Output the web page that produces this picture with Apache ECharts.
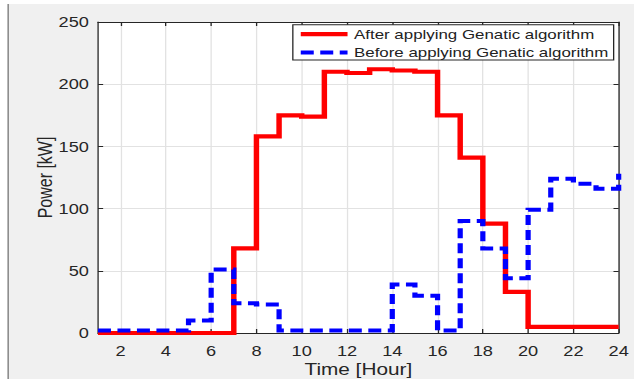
<!DOCTYPE html>
<html>
<head>
<meta charset="utf-8">
<script src="https://cdn.jsdelivr.net/npm/echarts@6/dist/echarts.min.js"></script>
<style>
  html, body { margin: 0; padding: 0; background: #fff; overflow: hidden; }
  /* the figure is drawn narrow and widened, like the exported MATLAB figure */
  #chart { width: 488px; height: 379px; transform: scaleX(1.2992); transform-origin: 0 0; }
</style>
</head>
<body>
<div id="chart"></div>
<script>
// Hours of the day (x) and power per hour in kW
const hours = [1, 2, 3, 4, 5, 6, 7, 8, 9, 10, 11, 12, 13, 14, 15, 16, 17, 18, 19, 20, 21, 22, 23, 24];
const afterGA = [0, 0, 0, 0, 0, 0, 68, 158, 175, 174, 210, 209, 212, 211, 210, 175, 141, 88, 33, 5, 5, 5, 5, 5];
const beforeGA = [2, 2, 2, 2, 10, 51, 24, 23, 2, 2, 2, 2, 2, 39, 30, 2, 90, 68, 44, 99, 124, 120, 116, 128];
const xTicks = [2, 4, 6, 8, 10, 12, 14, 16, 18, 20, 22, 24];
const seriesNames = ['After applying Genatic algorithm', 'Before applying Genatic algorithm'];

const axisColor = '#262626';
const gridColor = '#e2e2e2';
const font = 'Liberation Sans, Arial, Helvetica, sans-serif';

const pairs = (ys) => hours.map((h, i) => [h, ys[i]]);

const chart = echarts.init(document.getElementById('chart'), null, { renderer: 'svg' });

chart.setOption({
  backgroundColor: '#f0f0f0',
  animation: false,
  textStyle: { fontFamily: font },
  graphic: [
    { type: 'rect', shape: { x: 0, y: 0, width: 488, height: 4 }, style: { fill: '#fff' } },
    { type: 'rect', shape: { x: 0, y: 0, width: 6, height: 379 }, style: { fill: '#fff' } },
    { type: 'line', shape: { x1: 6.3, y1: 4, x2: 6.3, y2: 379 }, style: { stroke: '#8a8a8a', lineWidth: 1.2 } }
  ],
  grid: {
    left: 75.4, right: 11.8, top: 22, bottom: 46,
    outerBoundsMode: 'none', containLabel: false,
    show: true, backgroundColor: '#fff', borderWidth: 0
  },
  legend: {
    orient: 'vertical',
    left: 225.4, top: 24.7,
    padding: [3, 4, 1, 4],
    itemWidth: 36, itemHeight: 14, itemGap: 5.3,
    backgroundColor: '#fff',
    borderColor: axisColor, borderWidth: 1,
    borderRadius: 0,
    textStyle: { fontSize: 13, color: '#222', fontFamily: font },
    itemStyle: { opacity: 0 },
    lineStyle: { width: 4.2, opacity: 1 },
    data: seriesNames
  },
  xAxis: [
    {
      type: 'value', min: 1, max: 24, position: 'bottom',
      name: 'Time [Hour]', nameLocation: 'middle', nameGap: 28, nameMoveOverlap: false,
      nameTextStyle: { fontSize: 16, color: axisColor },
      axisLine: { show: true, onZero: false, lineStyle: { color: axisColor, width: 1 } },
      axisTick: { show: true, inside: true, length: 4, customValues: xTicks, lineStyle: { color: axisColor } },
      axisLabel: { customValues: xTicks, fontSize: 14, color: axisColor, margin: 11 },
      splitLine: { show: true, lineStyle: { color: gridColor, width: 1 } }
    },
    {
      type: 'value', min: 1, max: 24, position: 'top',
      axisLine: { show: true, onZero: false, lineStyle: { color: axisColor, width: 1 } },
      axisTick: { show: true, inside: true, length: 4, customValues: xTicks, lineStyle: { color: axisColor } },
      axisLabel: { show: false },
      splitLine: { show: false }
    }
  ],
  yAxis: [
    {
      type: 'value', min: 0, max: 250, interval: 50, position: 'left',
      name: 'Power [kW]', nameLocation: 'middle', nameGap: 33, nameMoveOverlap: false,
      nameTextStyle: { fontSize: 16, color: axisColor },
      axisLine: { show: true, onZero: false, lineStyle: { color: axisColor, width: 1 } },
      axisTick: { show: true, inside: true, length: 4, lineStyle: { color: axisColor } },
      axisLabel: { fontSize: 14, color: axisColor, margin: 7 },
      splitLine: { show: true, lineStyle: { color: gridColor, width: 1 } }
    },
    {
      type: 'value', min: 0, max: 250, interval: 50, position: 'right',
      axisLine: { show: true, onZero: false, lineStyle: { color: axisColor, width: 1 } },
      axisTick: { show: true, inside: true, length: 4, lineStyle: { color: axisColor } },
      axisLabel: { show: false },
      splitLine: { show: false }
    }
  ],
  series: [
    {
      name: seriesNames[0], type: 'line', step: 'end',
      xAxisIndex: 0, yAxisIndex: 0,
      symbol: 'none', clip: false,
      lineStyle: { color: '#ff0000', width: 4.2, join: 'miter', cap: 'butt' },
      itemStyle: { color: '#ff0000' },
      data: pairs(afterGA)
    },
    {
      name: seriesNames[1], type: 'line', step: 'end',
      xAxisIndex: 0, yAxisIndex: 0,
      symbol: 'none', clip: false,
      lineStyle: { color: '#0000ff', width: 4, type: [10, 5], join: 'miter', cap: 'butt' },
      itemStyle: { color: '#0000ff' },
      data: pairs(beforeGA)
    }
  ]
});
</script>
</body>
</html>
